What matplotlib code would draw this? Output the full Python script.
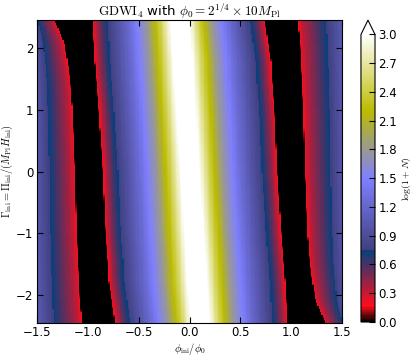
import numpy as np
import matplotlib
matplotlib.use("Agg")
import matplotlib.pyplot as plt

plt.rcParams['mathtext.fontset'] = 'cm'

# profile of log(1+N) along phi_ini/phi_0 on the Gamma_ini = 0 row
prof_u = [-1.75, -1.5, -1.43, -1.36, -1.26, -1.18, -1.135, -1.13,
          -0.86, -0.855, -0.8, -0.73, -0.6, -0.5, -0.42, -0.32, -0.24,
          -0.18, -0.12, -0.07, 0.0, 0.07, 0.12, 0.18, 0.24, 0.32, 0.42,
          0.5, 0.6, 0.73, 0.8, 0.855, 0.86, 1.13, 1.135, 1.18, 1.26,
          1.36, 1.43, 1.5, 1.75]
prof_v = [1.15, 1.0, 0.85, 0.7, 0.5, 0.35, 0.2, 0.0,
          0.0, 0.2, 0.45, 0.7, 1.0, 1.25, 1.5, 1.8, 2.2,
          2.5, 2.85, 3.1, 3.2, 3.1, 2.85, 2.5, 2.2, 1.8, 1.5,
          1.25, 1.0, 0.7, 0.45, 0.2, 0.0, 0.0, 0.2, 0.35, 0.5,
          0.7, 0.85, 1.0, 1.15]

# where the band edges and the centre sit for each Gamma_ini
gamma_rows = [-2.45, -2.12, -1.8, -1.48, -1.0, 0.0, 1.0, 1.48, 1.8, 2.12, 2.45]
left_outer = [-1.06, -1.08, -1.09, -1.10, -1.115, -1.13, -1.155, -1.175, -1.205, -1.24, -1.33]
left_inner = [-0.74, -0.77, -0.80, -0.81, -0.835, -0.86, -0.90, -0.925, -0.94, -0.95, -0.96]
centre = [0.10, 0.085, 0.07, 0.06, 0.04, 0.0, -0.04, -0.06, -0.07, -0.085, -0.10]
right_inner = [0.96, 0.95, 0.94, 0.925, 0.90, 0.86, 0.835, 0.81, 0.80, 0.77, 0.74]
right_outer = [1.33, 1.24, 1.205, 1.175, 1.155, 1.13, 1.115, 1.10, 1.09, 1.08, 1.06]
landmark_u = [-1.75, -1.13, -0.86, 0.0, 0.86, 1.13, 1.75]

cbar_ticks = [0.0, 0.3, 0.6, 0.9, 1.2, 1.5, 1.8, 2.1, 2.4, 2.7, 3.0]

gmax = np.sqrt(6)
phi = np.linspace(-1.5, 1.5, 240)
gam = np.linspace(-gmax, gmax, 200)

field = np.zeros((len(gam), len(phi)))
for i, g in enumerate(gam):
    xs = [-1.75,
          np.interp(g, gamma_rows, left_outer),
          np.interp(g, gamma_rows, left_inner),
          np.interp(g, gamma_rows, centre),
          np.interp(g, gamma_rows, right_inner),
          np.interp(g, gamma_rows, right_outer),
          1.75]
    u = np.interp(phi, xs, landmark_u)
    field[i] = np.interp(u, prof_u, prof_v)

fig = plt.figure(figsize=(4.13, 3.56), dpi=100)
ax = fig.add_axes([0.0896, 0.0927, 0.7385, 0.8511])
cax = fig.add_axes([0.874, 0.0955, 0.034, 0.848])

im = ax.imshow(field, origin='lower', aspect='auto', cmap='gist_stern',
               vmin=0, vmax=3, interpolation='nearest',
               extent=[-1.5, 1.5, -gmax, gmax])
ax.set_xlim(-1.5, 1.5)
ax.set_ylim(-gmax, gmax)
ax.set_xticks([-1.5, -1.0, -0.5, 0.0, 0.5, 1.0, 1.5])
ax.set_yticks([-2, -1, 0, 1, 2])
ax.tick_params(direction='in', top=True, right=True, labelsize=8.5,
               length=4, pad=2.5)
ax.set_title(r'$\mathrm{GDWI}_4$ with $\phi_0 = 2^{1/4}\times 10M_{\rm Pl}$',
             fontsize=9.5, pad=3)
ax.set_xlabel(r'$\phi_{\rm ini}/\phi_0$', fontsize=7.5, labelpad=1)
ax.set_ylabel(r'$\Gamma_{\rm ini} = \Pi_{\rm ini}/(M_{\rm Pl}H_{\rm ini})$',
              fontsize=7.5, labelpad=1)

cb = fig.colorbar(im, cax=cax, extend='max', ticks=cbar_ticks)
cb.ax.set_yticklabels(['%.1f' % t for t in cbar_ticks])
cb.ax.tick_params(labelsize=8.5, direction='in', length=4, pad=2.5)
cb.set_label(r'$\log(1+N)$', fontsize=7, labelpad=2)

fig.savefig('out.png', dpi=100)
